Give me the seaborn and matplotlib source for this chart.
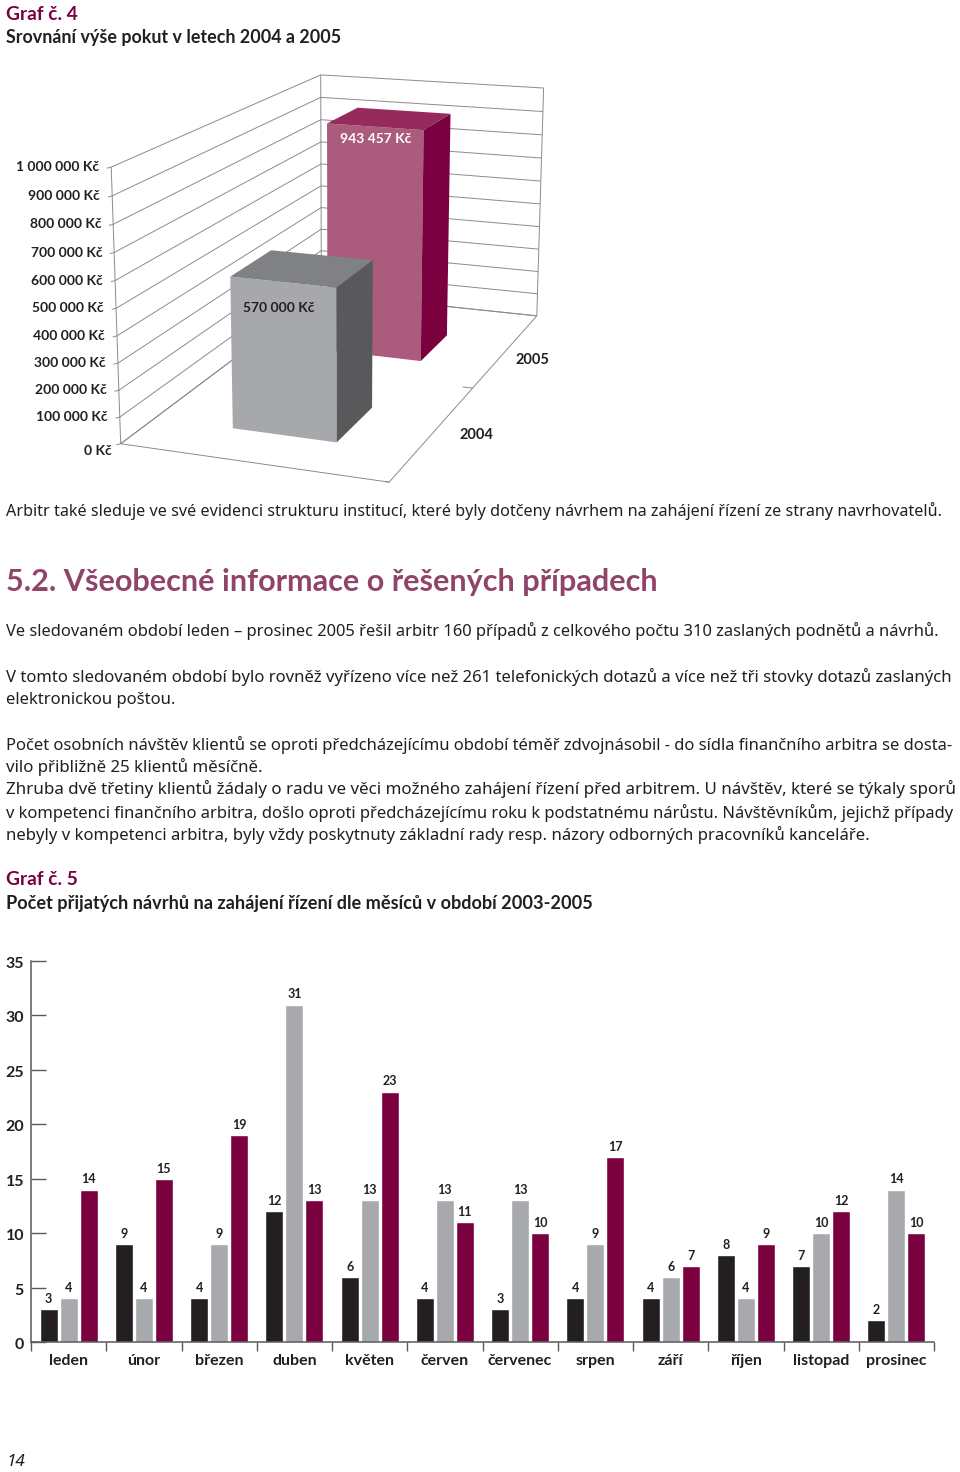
import matplotlib
matplotlib.use("Agg")

import matplotlib.pyplot as plt
from matplotlib.transforms import ScaledTranslation
import numpy as np
import pandas as pd
import seaborn as sns

sns.set_theme(style="white")
plt.rcParams["font.family"] = ["Noto Sans", "DejaVu Sans"]

W, H = 960, 1472
PLUM = "#7a0040"
INK = "#231f20"
LINE = "#8a8b8d"
BOLD = ["Lato", "DejaVu Sans"]

# ── data ──────────────────────────────────────────────────────────────────────
FINE_YEARS = ["2004", "2005"]
FINE_VALUES = [570000, 943457]
FINE_TICKS = [0, 100000, 200000, 300000, 400000, 500000, 600000, 700000, 800000, 900000, 1000000]

MONTHS = ["leden", "únor", "březen", "duben", "květen", "červen",
          "červenec", "srpen", "září", "říjen", "listopad", "prosinec"]
CASES_2003 = [3, 9, 4, 12, 6, 4, 3, 4, 4, 8, 7, 2]
CASES_2004 = [4, 4, 9, 31, 13, 13, 13, 9, 6, 4, 10, 14]
CASES_2005 = [14, 15, 19, 13, 23, 11, 10, 17, 7, 9, 12, 10]
CASE_TICKS = [0, 5, 10, 15, 20, 25, 30, 35]

fig = plt.figure(figsize=(W / 100, H / 100), dpi=100)
page = fig.add_axes([0, 0, 1, 1])
page.set_xlim(0, W)
page.set_ylim(H, 0)
page.axis("off")
renderer = fig.canvas.get_renderer()


def line_text(x0, x1, y, text, size=12.5, **kw):
    """One text line, size nudged so it ends at x1 like the justified original."""
    t = page.text(x0, y + 0.5, text, va="center", ha="left", fontsize=size, color=kw.pop("color", INK), **kw)
    t.set_fontsize(size * (x1 - x0) / t.get_window_extent(renderer).width)
    return t


# ── page text ─────────────────────────────────────────────────────────────────
line_text(6, 78, 14, "Graf č. 4", weight="bold", family=BOLD, color=PLUM)
line_text(6, 340, 37, "Srovnání výše pokut v letech 2004 a 2005", weight="bold", family=BOLD)
line_text(6, 941, 510, "Arbitr také sleduje ve své evidenci strukturu institucí, které byly dotčeny návrhem na zahájení řízení ze strany navrhovatelů.")
line_text(6, 657, 582, "5.2. Všeobecné informace o řešených případech", size=22, weight="bold", family=BOLD, color="#91446a")
line_text(6, 945, 631, "Ve sledovaném období leden – prosinec 2005 řešil arbitr 160 případů z celkového počtu 310 zaslaných podnětů a návrhů.")
line_text(6, 957, 676, "V tomto sledovaném období bylo rovněž vyřízeno více než 261 telefonických dotazů a více než tři stovky dotazů zaslaných")
line_text(6, 177, 699, "elektronickou poštou.")
line_text(6, 957, 744, "Počet osobních návštěv klientů se oproti předcházejícímu období téměř zdvojnásobil - do sídla finančního arbitra se dosta-")
line_text(6, 264, 767, "vilo přibližně 25 klientů měsíčně.")
line_text(6, 957, 789, "Zhruba dvě třetiny klientů žádaly o radu ve věci možného zahájení řízení před arbitrem. U návštěv, které se týkaly sporů")
line_text(6, 958, 812, "v kompetenci finančního arbitra, došlo oproti předcházejícímu roku k podstatnému nárůstu. Návštěvníkům, jejichž případy")
line_text(6, 874, 834, "nebyly v kompetenci arbitra, byly vždy poskytnuty základní rady resp. názory odborných pracovníků kanceláře.")
line_text(6, 78, 879, "Graf č. 5", weight="bold", family=BOLD, color=PLUM)
line_text(6, 592, 903, "Počet přijatých návrhů na zahájení řízení dle měsíců v období 2003-2005", weight="bold", family=BOLD)
line_text(7, 26, 1462, "14", style="italic")

# ── Fig 4: perspective bars, projection fitted to the box corners ─────────────
box = [((0, 0, 0), (121, 444)), ((0, 0, 1), (111, 167)), ((0, 1, 0), (321, 293)),
       ((0, 1, 1), (321, 75)), ((1, 1, 1), (543.5, 88)), ((1, 1, 0), (537, 316)),
       ((1, 0, 0), (389, 482))]
rows = []
for (u, d, v), (px, py) in box:
    rows.append([u, d, v, 1, 0, 0, 0, 0, -px * u, -px * d, -px * v, -px])
    rows.append([0, 0, 0, 0, u, d, v, 1, -py * u, -py * d, -py * v, -py])
P = np.linalg.svd(np.array(rows, dtype=float))[2][-1].reshape(3, 4)


def proj(u, d, value):
    x, y, w = P @ np.array([u, d, value / FINE_TICKS[-1], 1.0])
    return x / w, y / w


def path3d(*pts):
    xy = np.array([proj(*p) for p in pts])
    page.plot(xy[:, 0], xy[:, 1], color=LINE, lw=0.7, solid_capstyle="butt", zorder=1)


top = FINE_TICKS[-1]
for tick in FINE_TICKS:
    path3d((0, 0, tick), (0, 1, tick), (1, 1, tick))
    x, y = proj(0, 0, tick)
    page.plot([x - 4, x], [y + 1, y], color=LINE, lw=0.7, zorder=1)
    label = f"{tick:,}".replace(",", " ") + " Kč"
    page.text(x - 12 if tick else x - 9, y if tick else y + 7, label, ha="right", va="center",
              fontsize=10, weight="bold", family=BOLD, color=INK)
path3d((0, 0, top), (0, 0, 0), (1, 0, 0), (1, 1, 0), (0, 1, 0), (0, 0, 0))
path3d((0, 1, 0), (0, 1, top))
path3d((1, 1, 0), (1, 1, top))
path3d((1, 0, 0), (0.985, 0, 0))
path3d((1, 0.5, 0), (0.96, 0.5, 0))

BAR_BOXES = {"2005": (0.315, 0.715, 0.62, 0.80), "2004": (0.31, 0.71, 0.14, 0.33)}
BAR_SHADES = {"2005": ("#ab5b7b", "#962a5c", PLUM), "2004": ("#a7a8ac", "#808184", "#59595c")}
TEXT_COLORS = {"2005": "white", "2004": INK}
LABEL_SPOTS = {"2004": (279, 308), "2005": (376, 139)}
YEAR_SPOTS = {"2004": (476, 435), "2005": (532, 360)}
for year, value in sorted(zip(FINE_YEARS, FINE_VALUES), reverse=True):
    u0, u1, d0, d1 = BAR_BOXES[year]
    front, lid, side = BAR_SHADES[year]
    faces = [
        ([(u0, d0, 0), (u1, d0, 0), (u1, d0, value), (u0, d0, value)], front),
        ([(u0, d0, value), (u1, d0, value), (u1, d1, value), (u0, d1, value)], lid),
        ([(u1, d0, 0), (u1, d1, 0), (u1, d1, value), (u1, d0, value)], side),
    ]
    for corners, color in faces:
        xy = np.array([proj(*c) for c in corners])
        page.fill(xy[:, 0], xy[:, 1], color=color, lw=0, zorder=3)
    page.text(*LABEL_SPOTS[year], f"{value:,}".replace(",", " ") + " Kč", ha="center", va="center",
              fontsize=10, weight="bold", family=BOLD, color=TEXT_COLORS[year], zorder=4)
    page.text(*YEAR_SPOTS[year], year, ha="center", va="center", fontsize=10.5, weight="bold", family=BOLD, color=INK)

# ── Fig 5: grouped bars per month ─────────────────────────────────────────────
left, right, base, ceil = 31, 934, 1342, 961
ax = fig.add_axes([left / W, 1 - base / H, (right - left) / W, (base - ceil) / H])
ax.patch.set_alpha(0)

df = pd.DataFrame({"mesic": MONTHS, "2003": CASES_2003, "2004": CASES_2004, "2005": CASES_2005})
long_df = df.melt(id_vars="mesic", var_name="rok", value_name="pocet")
sns.barplot(data=long_df, x="mesic", y="pocet", hue="rok", palette=[INK, "#a7a9ac", PLUM],
            width=0.797, gap=0.09, saturation=1, legend=False, ax=ax)
for bars in ax.containers:
    ax.bar_label(bars, padding=3, fontsize=9, weight="bold", family=BOLD, color=INK)

ax.set_xlim(-0.5, len(MONTHS) - 0.5)
ax.set_ylim(0, CASE_TICKS[-1])
ax.set_yticks(CASE_TICKS)
ax.set_xlabel("")
ax.set_ylabel("")
ax.set_xticks(np.arange(len(MONTHS) + 1) - 0.5, minor=True)
ax.tick_params(axis="x", which="major", length=0, pad=8.5, labelsize=11.5, labelcolor=INK)
ax.tick_params(axis="x", which="minor", length=6.5, width=1, color="#58595b", direction="out", bottom=True)
ax.tick_params(axis="y", length=11, width=1, color="#58595b", direction="in", left=True, pad=5,
               labelsize=11.5, labelcolor=INK)
for lab in ax.get_xticklabels() + ax.get_yticklabels():
    lab.set_fontweight("bold")
    lab.set_family(BOLD)
nudge = ScaledTranslation(0, -1.5 / 100, fig.dpi_scale_trans)
for lab in ax.get_yticklabels():
    lab.set_transform(lab.get_transform() + nudge)
sns.despine(ax=ax, top=True, right=True)
for name in ["left", "bottom"]:
    ax.spines[name].set_color("#58595b")
    ax.spines[name].set_linewidth(1.1)

fig.savefig("out.png", dpi=100)
plt.close(fig)
